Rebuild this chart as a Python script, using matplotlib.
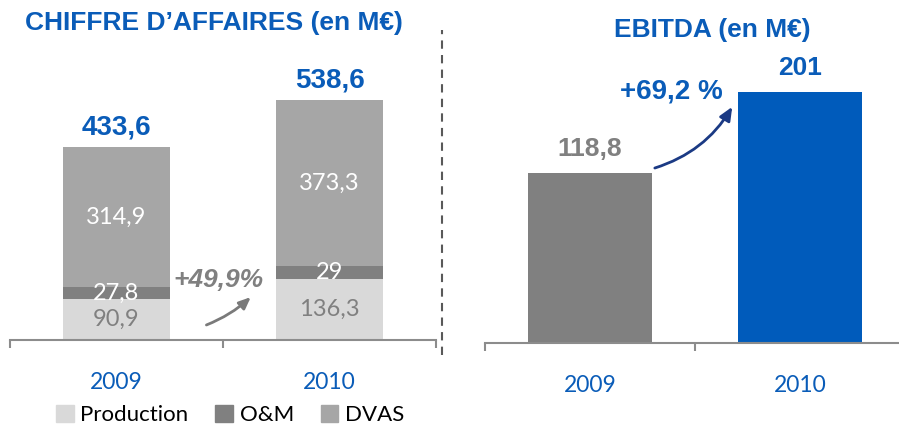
import matplotlib
matplotlib.use("Agg")
import matplotlib.pyplot as plt
from matplotlib.lines import Line2D
from matplotlib.patches import Patch

# ---------------- data ----------------
years = ["2009", "2010"]
production = [90.9, 136.3]
om = [27.8, 29.0]
dvas = [314.9, 373.3]
ca_total = [433.6, 538.6]
ca_growth = "+49,9%"

ebitda = [118.8, 201.0]
ebitda_labels = ["118,8", "201"]
ebitda_growth = "+69,2 %"

# ---------------- style ----------------
blue = "#0A5CB8"
navy = "#1B3A84"
c_prod = "#D9D9D9"
c_om = "#808080"
c_dvas = "#A6A6A6"
axis_grey = "#8C8C8C"
calibri = ["Lato", "DejaVu Sans"]
arial = ["Liberation Sans", "DejaVu Sans"]


def fmt(v):
    s = f"{v:.1f}".replace(".", ",")
    return s[:-2] if s.endswith(",0") else s


def style_axis(ax):
    for side in ["top", "left", "right"]:
        ax.spines[side].set_visible(False)
    ax.spines["bottom"].set_color(axis_grey)
    ax.spines["bottom"].set_linewidth(1.5)
    ax.set_yticks([])
    ax.set_xlim(-0.5, 1.5)
    ax.set_xticks([-0.5, 0.5, 1.5])
    ax.set_xticklabels([])
    ax.tick_params(axis="x", which="major", direction="out", length=6,
                   width=1.5, color=axis_grey)
    ax.set_xticks([0, 1], minor=True)
    ax.set_xticklabels(years, minor=True, fontsize=16.5, color=blue,
                       family=calibri)
    ax.tick_params(axis="x", which="minor", length=0, pad=23)


fig = plt.figure(figsize=(8.99, 4.28), dpi=100)

# ---------------- left: chiffre d'affaires ----------------
ax1 = fig.add_axes([10 / 899, 88 / 428, 426 / 899, 280 / 428])
x = [0, 1]
bot2 = [p + o for p, o in zip(production, om)]
ax1.bar(x, production, width=0.5, color=c_prod)
ax1.bar(x, om, width=0.5, bottom=production, color=c_om)
ax1.bar(x, dvas, width=0.5, bottom=bot2, color=c_dvas)
ax1.set_ylim(0, 628)
style_axis(ax1)

for i in x:
    ax1.text(i, production[i] / 2, fmt(production[i]), ha="center", va="center",
             fontsize=17, color="#808080", family=calibri)
    ax1.text(i, production[i] + om[i] / 2, fmt(om[i]), ha="center", va="center",
             fontsize=17, color="white", family=calibri)
    ax1.text(i, bot2[i] + dvas[i] / 2, fmt(dvas[i]), ha="center", va="center",
             fontsize=17, color="white", family=calibri)
    ax1.annotate(fmt(ca_total[i]), (i, ca_total[i]), xytext=(0, 14),
                 textcoords="offset points", ha="center", va="center",
                 fontsize=20, fontweight="bold", color=blue, family=arial)

ax1.text(0.49, 0.214, ca_growth, transform=ax1.transAxes, ha="center",
         va="center", fontsize=19, fontweight="bold", fontstyle="italic",
         color="#808080", family=arial)
ax1.annotate("", xy=(0.570, 0.160), xytext=(0.455, 0.050),
             xycoords="axes fraction", textcoords="axes fraction",
             arrowprops=dict(arrowstyle="-|>,head_length=0.7,head_width=0.3",
                             color="#7A7A7A", lw=2,
                             connectionstyle="arc3,rad=0.1"))

fig.text(214 / 899, 1 - 23 / 428, "CHIFFRE D\u2019AFFAIRES (en M\u20ac)",
         ha="center", va="center", fontsize=19, fontweight="bold",
         color=blue, family=arial)

# ---------------- right: EBITDA ----------------
ax2 = fig.add_axes([485 / 899, 85 / 428, 420 / 899, 280 / 428])
base = -54
ax2.bar(x, [v - base for v in ebitda], bottom=base, width=0.59,
        color=["#808080", "#005BBB"])
ax2.set_ylim(base, 230)
style_axis(ax2)
for i in x:
    ax2.annotate(ebitda_labels[i], (i, ebitda[i]), xytext=(0, 17),
                 textcoords="offset points", ha="center", va="center",
                 fontsize=19, fontweight="bold",
                 color="#808080" if i == 0 else blue, family=arial)

ax2.text(0.443, 0.90, ebitda_growth, transform=ax2.transAxes, ha="center",
         va="center", fontsize=20, fontweight="bold", color=blue, family=arial)
ax2.annotate("", xy=(0.592, 0.852), xytext=(0.398, 0.622),
             xycoords="axes fraction", textcoords="axes fraction",
             arrowprops=dict(arrowstyle="-|>,head_length=0.8,head_width=0.35",
                             color=navy, lw=2,
                             connectionstyle="arc3,rad=0.2"))

fig.text(712 / 899, 1 - 30 / 428, "EBITDA (en M\u20ac)", ha="center",
         va="center", fontsize=19, fontweight="bold", color=blue, family=arial)

# ---------------- separator + legend ----------------
fig.add_artist(Line2D([442 / 899, 442 / 899], [73 / 428, 398 / 428],
                      transform=fig.transFigure, color="#595959", lw=1.5,
                      linestyle=(0, (4, 3))))

handles = [Patch(color=c_prod, label="Production"),
           Patch(color=c_om, label="O&M"),
           Patch(color=c_dvas, label="DVAS")]
fig.legend(handles=handles, loc="center", bbox_to_anchor=(0.256, 0.03),
           ncol=3, frameon=False, handlelength=0.8, handleheight=0.8,
           handletextpad=0.3, columnspacing=1.2,
           prop={"family": calibri, "size": 16})

fig.savefig("out.png", dpi=100, facecolor="white")
